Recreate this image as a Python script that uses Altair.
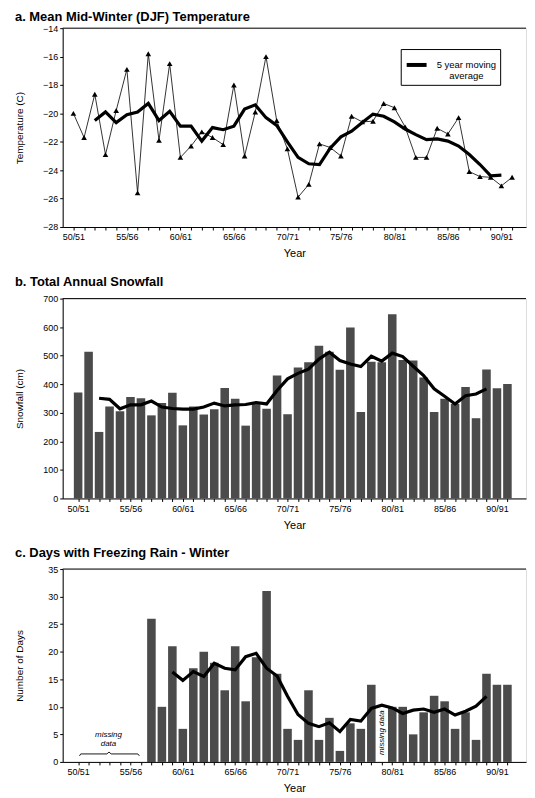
import altair as alt
import pandas as pd

FONT = "Liberation Sans"

seasons = ["50/51", "51/52", "52/53", "53/54", "54/55", "55/56", "56/57", "57/58", "58/59", "59/60",
           "60/61", "61/62", "62/63", "63/64", "64/65", "65/66", "66/67", "67/68", "68/69", "69/70",
           "70/71", "71/72", "72/73", "73/74", "74/75", "75/76", "76/77", "77/78", "78/79", "79/80",
           "80/81", "81/82", "82/83", "83/84", "84/85", "85/86", "86/87", "87/88", "88/89", "89/90",
           "90/91", "91/92"]

temperature = [-20.0, -21.7, -18.65, -22.9, -19.8, -16.9, -25.6, -15.8, -21.9, -16.5,
               -23.1, -22.3, -21.3, -21.7, -22.2, -18.0, -23.0, -19.9, -16.0, -20.5,
               -22.5, -25.9, -25.0, -22.15, -22.4, -23.0, -20.2, -20.6, -20.55, -19.3,
               -19.6, -20.95, -23.1, -23.1, -21.05, -21.45, -20.3, -24.1, -24.45, -24.5,
               -25.1, -24.5]
temp_ma_start = 2
temp_ma = [-20.5, -19.9, -20.65, -20.1, -19.9, -19.3, -20.5, -19.85, -20.9, -20.9,
           -21.95, -21.0, -21.15, -20.9, -19.7, -19.4, -20.3, -20.85, -22.0, -23.1,
           -23.55, -23.6, -22.45, -21.65, -21.25, -20.65, -20.05, -20.2, -20.6, -21.1,
           -21.5, -21.85, -21.8, -21.95, -22.3, -22.9, -23.6, -24.4, -24.35]

snowfall = [371, 514, 233, 322, 305, 355, 351, 291, 334, 370,
            256, 322, 294, 312, 387, 349, 255, 331, 314, 431,
            295, 459, 477, 535, 514, 451, 599, 303, 479, 477,
            645, 485, 483, 424, 303, 349, 331, 390, 281, 452,
            386, 401]
snow_ma_start = 2
snow_ma = [351, 347, 314, 328, 328, 341, 320, 315, 313, 313,
           320, 334, 324, 328, 329, 336, 331, 378, 419, 438,
           453, 488, 512, 483, 471, 462, 498, 481, 509, 497,
           463, 430, 384, 358, 331, 360, 366, 384]

freezing_rain = [None, None, None, None, None, None, None, 26, 10, 21,
                 6, 17, 20, 18, 13, 21, 11, 19, 31, 16,
                 6, 4, 13, 4, 8, 2, 7, 6, 14, None,
                 10, 10, 5, 9, 12, 11, 6, 9, 4, 16,
                 14, 14]
rain_ma_start = 9
rain_ma = [16.3, 14.8, 16.4, 15.5, 17.9, 17.0, 16.7, 19.1, 19.7, 17.0,
           15.6, 11.9, 8.6, 7.0, 6.4, 7.1, 5.5, 7.7, 7.4, 9.7,
           10.3, 9.8, 8.8, 9.4, 9.6, 9.0, 9.6, 8.5, 9.2, 10.1, 11.9]

ma_name = "5 year moving average"

# annotation for panel c
note_text = ["missing", "data"]
note_x = [2.9, 2.9]
note_y = [4.8, 3.2]
brace_x = [0.13, 0.25, 2.75, 2.95, 3.15, 5.7, 5.85]
brace_y = [1.1, 1.45, 1.45, 1.8, 1.45, 1.45, 1.1]
gap_text = ["missing data"]
gap_x = [29]
gap_y = [5.3]

n = len(seasons)
idx = list(range(n))

temp_df = pd.DataFrame({"i": idx, "season": seasons, "v": temperature})
temp_ma_df = pd.DataFrame({"i": list(range(temp_ma_start, temp_ma_start + len(temp_ma))),
                           "v": temp_ma, "series": ma_name})
snow_df = pd.DataFrame({"i": idx, "season": seasons, "v": snowfall})
snow_ma_df = pd.DataFrame({"i": list(range(snow_ma_start, snow_ma_start + len(snow_ma))),
                           "v": snow_ma})
rain_df = pd.DataFrame({"i": idx, "season": seasons, "v": freezing_rain}).dropna()
rain_ma_df = pd.DataFrame({"i": list(range(rain_ma_start, rain_ma_start + len(rain_ma))),
                           "v": rain_ma})
note_df = pd.DataFrame({"i": note_x, "v": note_y, "t": note_text})
brace_df = pd.DataFrame({"i": brace_x, "v": brace_y, "o": list(range(len(brace_x)))})
gap_df = pd.DataFrame({"i": gap_x, "v": gap_y, "t": gap_text})

W = 466
BAR = "#4b4b4b"
xscale = alt.Scale(domain=[-1, 42.3], nice=False, zero=False)
label_expr = "datum.value % 5 == 0 ? (50 + datum.value) + '/' + (51 + datum.value) : ''"


def xaxis():
    return alt.Axis(title="Year", values=idx, labelExpr=label_expr, tickSize=3,
                    labelFontSize=9, titleFontSize=11, titleFontWeight="normal",
                    labelPadding=3, titlePadding=6, grid=False, labelOverlap=False,
                    labelFlush=False, domainColor="black", tickColor="black",
                    labelColor="black", titleColor="black", labelFont=FONT, titleFont=FONT)


def yaxis(title, values):
    return alt.Axis(title=title, values=values, tickSize=3, labelFontSize=9,
                    titleFontSize=10, titleFontWeight="normal", grid=False,
                    minExtent=30, maxExtent=30, titlePadding=8, labelPadding=2,
                    domainColor="black", tickColor="black", labelColor="black",
                    titleColor="black", labelFont=FONT, titleFont=FONT)


def ptitle(text, off):
    return alt.TitleParams(text=text, anchor="start", fontSize=13, fontWeight="bold",
                           font=FONT, color="black", offset=off)


X = alt.X("i:Q", scale=xscale, axis=xaxis())


def top_rule():
    return alt.Chart(pd.DataFrame({"a": [0]})).mark_rule(color="black", strokeWidth=1).encode(
        y=alt.value(0))


# ---------------- panel a ----------------
ya_scale = alt.Scale(domain=[-28, -14], nice=False, zero=False)
ya = alt.Y("v:Q", scale=ya_scale, axis=yaxis("Temperature  (C)", list(range(-28, -13, 2))))

a_line = alt.Chart(temp_df).mark_line(color="black", strokeWidth=0.8).encode(x=X, y=ya)
a_pts = alt.Chart(temp_df).mark_point(shape="triangle-up", filled=True, color="black",
                                      size=32, opacity=1).encode(x=X, y=ya)
a_ma = alt.Chart(temp_ma_df).mark_line(strokeWidth=3.2).encode(
    x=X, y=ya,
    stroke=alt.Stroke("series:N", scale=alt.Scale(range=["black"]),
                      legend=alt.Legend(title=None, orient="none", legendX=340, legendY=21,
                                        symbolType="stroke", symbolSize=400,
                                        symbolStrokeWidth=4, symbolStrokeColor="black",
                                        labelExpr="['5 year moving', 'average']",
                                        labelAlign="center", labelOffset=38,
                                        labelFontSize=9.5, labelFont=FONT, labelColor="black",
                                        labelLimit=200, strokeColor="black", padding=4,
                                        fillColor="white")))
panel_a = alt.layer(top_rule(), a_line, a_pts, a_ma).properties(
    width=W, height=200, title=ptitle("a. Mean Mid-Winter (DJF) Temperature", 0))

# ---------------- panel b ----------------
yb = alt.Y("v:Q", scale=alt.Scale(domain=[0, 700], nice=False),
           axis=yaxis("Snowfall (cm)", list(range(0, 701, 100))))
b_bars = alt.Chart(snow_df).mark_bar(size=8.6, color=BAR).encode(x=X, y=yb)
b_ma = alt.Chart(snow_ma_df).mark_line(color="black", strokeWidth=3.2).encode(x=X, y=yb)
panel_b = alt.layer(top_rule(), b_bars, b_ma).properties(
    width=W, height=201, title=ptitle("b. Total  Annual Snowfall", 6))

# ---------------- panel c ----------------
yc = alt.Y("v:Q", scale=alt.Scale(domain=[0, 35], nice=False),
           axis=yaxis("Number of Days", list(range(0, 36, 5))))
c_bars = alt.Chart(rain_df).mark_bar(size=8.6, color=BAR).encode(x=X, y=yc)
c_ma = alt.Chart(rain_ma_df).mark_line(color="black", strokeWidth=3.2).encode(x=X, y=yc)
c_note = alt.Chart(note_df).mark_text(font=FONT, fontSize=8, fontStyle="italic",
                                      color="black").encode(x=X, y=yc, text="t:N")
c_brace = alt.Chart(brace_df).mark_line(color="black", strokeWidth=0.9).encode(
    x=X, y=yc, order="o:Q")
c_gap = alt.Chart(gap_df).mark_text(font=FONT, fontSize=8, fontStyle="italic", angle=270,
                                    color="black").encode(x=X, y=yc, text="t:N")
panel_c = alt.layer(top_rule(), c_bars, c_ma, c_brace, c_note, c_gap).properties(
    width=W, height=194, title=ptitle("c. Days with Freezing  Rain - Winter", 5))

chart = alt.vconcat(panel_a, panel_b, panel_c, spacing=15).properties(
    padding={"left": 6, "top": 0, "right": 0, "bottom": 0}
).configure_view(stroke=None).configure(background="white")

chart.save("out.html", embed_options={"renderer": "svg", "actions": False})
